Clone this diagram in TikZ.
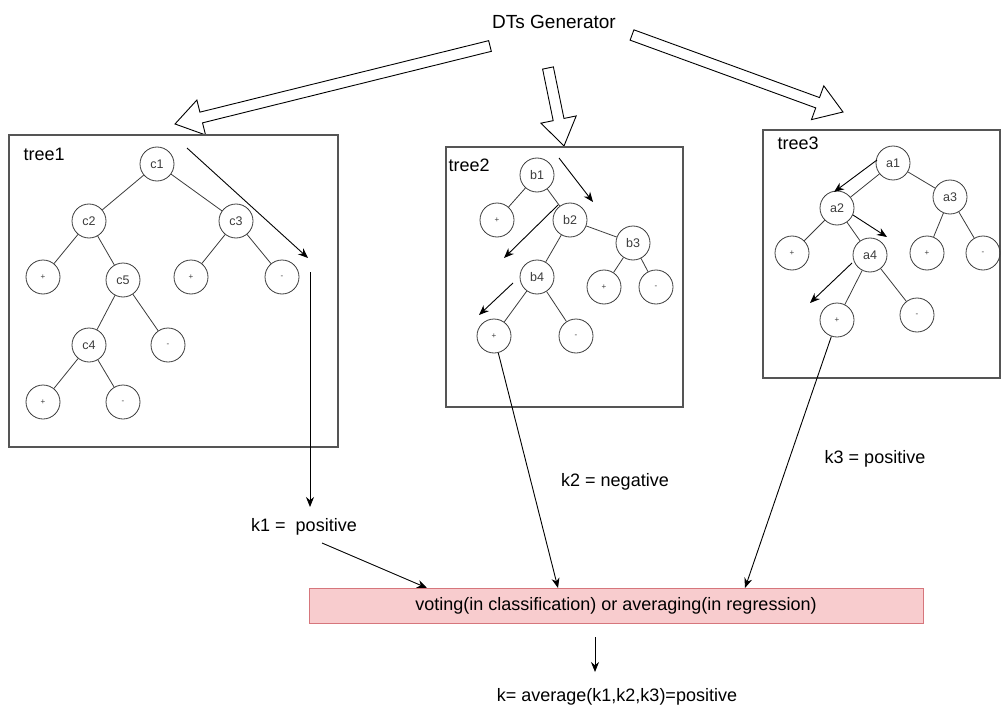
\documentclass[tikz,border=0pt]{standalone}
\usepackage{fontspec}
\setmainfont{Liberation Sans}
\usetikzlibrary{arrows.meta,calc}
\definecolor{BoxGray}{RGB}{85,85,85}
\definecolor{NodeGray}{RGB}{60,60,60}
\definecolor{VoteFill}{RGB}{248,204,206}
\definecolor{VoteLine}{RGB}{214,118,124}

% hollow block arrow from #1 to #2
\newcommand{\hollowarrow}[2]{%
  \draw[fill=white,line width=0.9pt,line join=miter] let \p1=($(#2)-(#1)$),
    \n1={veclen(\x1,\y1)}, \n2={atan2(\y1,\x1)} in
    [shift={(#1)},rotate=\n2] (0pt,5.5pt) -- (\n1-27pt,5.5pt) -- (\n1-27pt,18pt)
    -- (\n1,0pt) -- (\n1-27pt,-18pt) -- (\n1-27pt,-5.5pt) -- (0pt,-5.5pt) -- cycle;}

\tikzset{
  treebox/.style={draw=BoxGray,line width=1.2pt},
  tnode/.style={circle,draw=NodeGray,line width=0.8pt,minimum size=34pt,inner sep=0pt,
    text=NodeGray,font=\fontsize{12.5}{14}\selectfont},
  leaf/.style={tnode,font=\fontsize{8}{9}\selectfont},
  edge/.style={draw=NodeGray,line width=0.8pt},
  label/.style={font=\fontsize{18}{20}\selectfont},
  flow/.style={->,line width=0.9pt},
}

\begin{document}
\begin{tikzpicture}[x=1pt,y=-1pt,>={Stealth[length=10pt,width=8pt]}]
\useasboundingbox (0,0) rectangle (1001,706);

% generator and block arrows
\node[label,font=\fontsize{19}{21}\selectfont] (gen) at (554,22) {DTs Generator};
\coordinate (g1a) at (490,46);  \coordinate (g1b) at (175,124);
\coordinate (g2a) at (548,68);  \coordinate (g2b) at (564,146);
\coordinate (g3a) at (632,35);  \coordinate (g3b) at (843,112);
\hollowarrow{g1a}{g1b}
\hollowarrow{g2a}{g2b}
\hollowarrow{g3a}{g3b}

% tree boxes
\draw[treebox] (9,135) rectangle (338,447);
\draw[treebox] (446,147) rectangle (683,407);
\draw[treebox] (763,130) rectangle (1000,378);
\node[label,anchor=west] at (20,154) {tree1};
\node[label,anchor=west] at (445,165) {tree2};
\node[label,anchor=west] at (774,143) {tree3};

% tree1
\node[tnode] (c1) at (157,164) {c1};
\node[tnode] (c2) at (89,221) {c2};
\node[tnode] (c3) at (236,221) {c3};
\node[leaf] (c2l) at (43,277) {+};
\node[tnode] (c5) at (123,280) {c5};
\node[leaf] (c3l) at (191,277) {+};
\node[leaf] (c3r) at (282,277) {-};
\node[tnode] (c4) at (89,345) {c4};
\node[leaf] (c5r) at (168,345) {-};
\node[leaf] (c4l) at (43,402) {+};
\node[leaf] (c4r) at (123,402) {-};
\foreach \u/\v in {c1/c2,c1/c3,c2/c2l,c2/c5,c3/c3l,c3/c3r,c5/c4,c5/c5r,c4/c4l,c4/c4r}
  \draw[edge] (\u) -- (\v);

% tree2
\begin{scope}[every node/.append style={minimum size=37pt}]
\node[tnode] (b1) at (537,175) {b1};
\node[leaf] (b1l) at (497,220) {+};
\node[tnode] (b2) at (570,220) {b2};
\node[tnode] (b3) at (633,243) {b3};
\node[tnode] (b4) at (537,277) {b4};
\node[leaf] (b3l) at (604,287) {+};
\node[leaf] (b3r) at (656,287) {-};
\node[leaf] (b4l) at (494,336) {+};
\node[leaf] (b4r) at (576,336) {-};
\end{scope}
\foreach \u/\v in {b1/b1l,b1/b2,b2/b4,b2/b3,b3/b3l,b3/b3r,b4/b4l,b4/b4r}
  \draw[edge] (\u) -- (\v);

% tree3
\node[tnode] (a1) at (893,163) {a1};
\node[tnode] (a2) at (837,208) {a2};
\node[tnode] (a3) at (950,197) {a3};
\node[leaf] (a2l) at (792,253) {+};
\node[tnode] (a4) at (870,255) {a4};
\node[leaf] (a3l) at (927,253) {+};
\node[leaf] (a3r) at (983,253) {-};
\node[leaf] (a4l) at (837,320) {+};
\node[leaf] (a4r) at (917,315) {-};
\foreach \u/\v in {a1/a2,a1/a3,a2/a2l,a2/a4,a3/a3l,a3/a3r,a4/a4l,a4/a4r}
  \draw[edge] (\u) -- (\v);

% decision paths
\coordinate (p1a) at (187,148); \coordinate (p1b) at (308,258);
\coordinate (p2a) at (559,158); \coordinate (p2b) at (593,202);
\coordinate (p3a) at (558,205); \coordinate (p3b) at (504,258);
\coordinate (p4a) at (513,283); \coordinate (p4b) at (479,315);
\coordinate (p5a) at (877,160); \coordinate (p5b) at (834,192);
\coordinate (p6a) at (853,215); \coordinate (p6b) at (887,237);
\coordinate (p7a) at (852,263); \coordinate (p7b) at (810,303);
\foreach \i in {1,...,7}
  \draw[flow] (p\i a) -- (p\i b);

% results and voting
\node[label] (k1) at (304,527) {k1 =\ \ positive};
\node[label] (k2) at (615,482) {k2 = negative};
\node[label] (k3) at (875,459) {k3 = positive};
\node[draw=VoteLine,fill=VoteFill,line width=1pt,minimum width=614pt,minimum height=35pt,
  label] (vote) at (616,605.5) {voting(in classification) or averaging(in regression)};
\node[label] (res) at (617,697) {k= average(k1,k2,k3)=positive};

\coordinate (t1a) at (310,272); \coordinate (t1b) at (310,507);
\coordinate (k1o) at (322,543);
\coordinate (in1) at (427,588);
\coordinate (in2) at (558,588);
\coordinate (in3) at (745,588);
\coordinate (outa) at (595,637); \coordinate (outb) at (595,672);
\draw[flow] (t1a) -- (t1b);
\draw[flow] (k1o) -- (in1);
\draw[flow] (b4l) -- (in2);
\draw[flow] (a4l) -- (in3);
\draw[flow] (outa) -- (outb);
\end{tikzpicture}
\end{document}
